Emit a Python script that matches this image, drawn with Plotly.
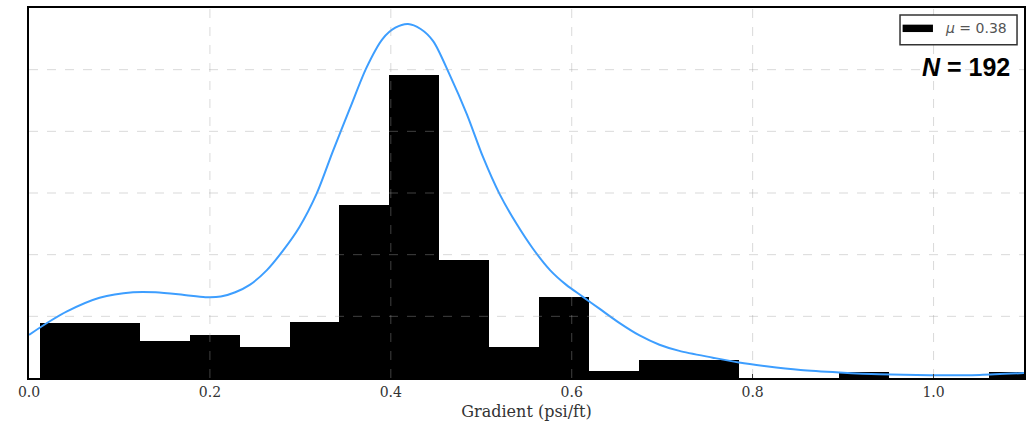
import numpy as np
import plotly.graph_objects as go

# ---- data ----
bin_start = 0.012
bin_width = 0.0552
bar_density = [0.90, 0.90, 0.60, 0.69, 0.51, 0.91, 2.81, 4.92, 1.91, 0.51,
               1.31, 0.11, 0.29, 0.29, 0.0, 0.0, 0.10, 0.0, 0.0, 0.10]

kde_x = [0.0, 0.023, 0.042, 0.078, 0.115, 0.140, 0.170, 0.195, 0.212, 0.228,
         0.244, 0.263, 0.281, 0.299, 0.318, 0.336, 0.355, 0.373, 0.391, 0.405,
         0.419, 0.433, 0.447, 0.465, 0.484, 0.502, 0.520, 0.539, 0.557, 0.576,
         0.594, 0.612, 0.631, 0.653, 0.675, 0.697, 0.719, 0.756, 0.785, 0.815,
         0.853, 0.896, 0.940, 0.996, 1.051, 1.100]
kde_y = [0.70, 0.92, 1.08, 1.30, 1.39, 1.39, 1.35, 1.31, 1.32, 1.39,
         1.51, 1.75, 2.07, 2.45, 2.99, 3.68, 4.38, 5.03, 5.50, 5.68,
         5.74, 5.66, 5.46, 4.92, 4.28, 3.58, 2.99, 2.50, 2.10, 1.75,
         1.51, 1.32, 1.12, 0.89, 0.69, 0.54, 0.44, 0.33, 0.25, 0.19,
         0.13, 0.09, 0.06, 0.045, 0.05, 0.08]

x_ticks = [0.0, 0.2, 0.4, 0.6, 0.8, 1.0]
x_tick_text = ["0.0", "0.2", "0.4", "0.6", "0.8", "1.0"]
y_grid = [1, 2, 3, 4, 5]
x_grid = [0.2, 0.4, 0.6, 0.8, 1.0]
mu_label = "<i>μ</i> = 0.38"
n_label = "<b><i>N</i> = 192</b>"
x_title = "Gradient (psi/ft)"

x_range = [0.0, 1.1]
y_range = [0.0, 6.0]

centers = bin_start + bin_width * (np.arange(len(bar_density)) + 0.5)

fig = go.Figure()
fig.add_trace(go.Bar(x=centers, y=bar_density, width=bin_width,
                     marker=dict(color="black", line=dict(width=0)),
                     showlegend=False))
fig.add_trace(go.Scatter(x=kde_x, y=kde_y, mode="lines",
                         line=dict(color="#3d9eff", width=2, shape="spline", smoothing=0.8),
                         showlegend=False))

grid_col = "rgba(160,160,160,0.4)"
for g in y_grid:
    fig.add_shape(type="line", xref="x", yref="y", x0=x_range[0], x1=x_range[1],
                  y0=g, y1=g, line=dict(color=grid_col, width=1, dash="dash"), layer="above")
for g in x_grid:
    fig.add_shape(type="line", xref="x", yref="y", x0=g, x1=g,
                  y0=y_range[0], y1=y_range[1], line=dict(color=grid_col, width=1, dash="dash"), layer="above")

# legend box (manual, to match the wide patch)
fig.add_shape(type="rect", xref="paper", yref="paper", x0=0.8754, x1=0.993, y0=0.9005, y1=0.981,
              line=dict(color="#333333", width=1.5), fillcolor="white", layer="above")
fig.add_shape(type="rect", xref="paper", yref="paper", x0=0.878, x1=0.9085, y0=0.935, y1=0.955,
              line=dict(width=0), fillcolor="black", layer="above")
fig.add_annotation(xref="paper", yref="paper", x=0.9186, y=0.946, text=mu_label, showarrow=False,
                   xanchor="left", yanchor="middle",
                   font=dict(family="DejaVu Sans", size=14, color="#555555"))
fig.add_annotation(xref="paper", yref="paper", x=0.988, y=0.840, text=n_label, showarrow=False,
                   xanchor="right", yanchor="middle",
                   font=dict(family="Liberation Sans, Arial", size=25, color="black"))

fig.update_layout(
    width=1033, height=424,
    margin=dict(l=29, r=9, t=6, b=46),
    plot_bgcolor="white", paper_bgcolor="white",
    bargap=0,
    xaxis=dict(range=x_range, tickvals=x_ticks, ticktext=x_tick_text,
               showgrid=False, zeroline=False,
               showline=True, mirror=True, linecolor="black", linewidth=2,
               ticks="inside", ticklen=4, tickcolor="black",
               tickfont=dict(family="DejaVu Serif", size=14, color="#333333"),
               title=dict(text=x_title, standoff=7,
                          font=dict(family="DejaVu Serif", size=16, color="#333333"))),
    yaxis=dict(range=y_range, showticklabels=False, showgrid=False, zeroline=False,
               showline=True, mirror=True, linecolor="black", linewidth=2, ticks=""),
)

fig.write_html("out.html", config={"displayModeBar": False})

# remove the default body margin so the figure sits at the window origin
with open("out.html", "r", encoding="utf-8") as f:
    html = f.read()
html = html.replace("<body>", '<body style="margin:0;padding:0;">', 1)
with open("out.html", "w", encoding="utf-8") as f:
    f.write(html)
